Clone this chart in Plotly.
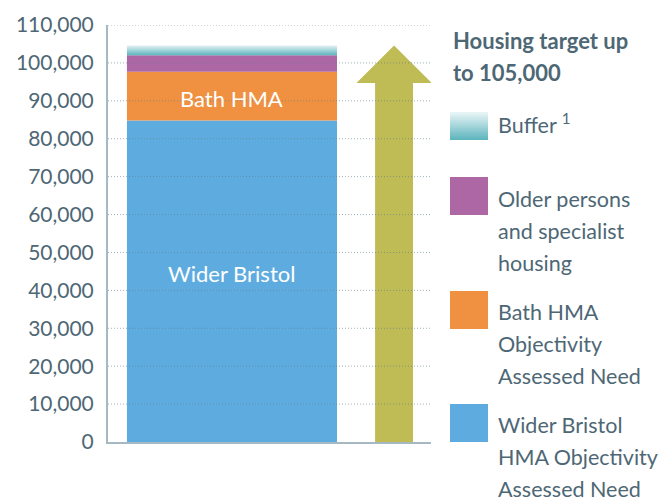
import plotly.graph_objects as go

# ---------------- data ----------------
segments = ["Wider Bristol", "Bath HMA", "Older persons and specialist housing", "Buffer"]
segment_values = [84800, 12900, 4300, 2600]
segment_colors = ["#5eacdf", "#ef9141", "#ae67a5", "#5bb4bd"]
bar_labels = ["Wider Bristol", "Bath HMA", "", ""]
title_lines = ["Housing target up", "to 105,000"]
legend_lines = [
    ["Buffer <sup>1</sup>"],
    ["Older persons", "and specialist", "housing"],
    ["Bath HMA", "Objectivity", "Assessed Need"],
    ["Wider Bristol", "HMA Objectivity", "Assessed Need"],
]
y_ticks = list(range(0, 110001, 10000))
y_ticktext = [f"{v:,}" for v in y_ticks]

# ---------------- style ----------------
W, H = 661, 500
ML, MR, MT, MB = 108, 230, 25, 58
TXT = "#4e6775"
AXIS = "#a6b8c1"
FONT = "Lato"
BAR_X, BAR_W = 0.0, 1.296
ARROW_X, SHAFT_HW, HEAD_HW = 1.0, 0.117, 0.232
HEAD_LEN = 9900
ARROW_COLOR = "#bfbb55"

plot_w = W - ML - MR
plot_h = H - MT - MB


def px_x(p):
    return (p - ML) / plot_w


def px_y(p):
    return (H - MB - p) / plot_h


fig = go.Figure()

# stacked solid segments
base = 0
bases = []
for i, (name, v) in enumerate(zip(segments, segment_values)):
    bases.append(base)
    if name != "Buffer":
        fig.add_trace(go.Bar(
            x=[BAR_X], y=[v], base=[base], width=BAR_W,
            marker=dict(color=segment_colors[i], line=dict(width=0)),
            name=name, showlegend=False, hoverinfo="skip",
        ))
    base += v
total = base

# buffer segment with vertical gradient
b0 = bases[3]
fig.add_trace(go.Scatter(
    x=[BAR_X - BAR_W / 2, BAR_X + BAR_W / 2, BAR_X + BAR_W / 2, BAR_X - BAR_W / 2, BAR_X - BAR_W / 2],
    y=[b0, b0, total, total, b0],
    mode="lines", line=dict(width=0), fill="toself",
    fillgradient=dict(type="vertical", colorscale=[[0, "#5bb4bd"], [1, "#e4f2f3"]]),
    showlegend=False, hoverinfo="skip",
))

# arrow up to the total
hb = total - HEAD_LEN
fig.add_trace(go.Scatter(
    x=[ARROW_X - SHAFT_HW, ARROW_X + SHAFT_HW, ARROW_X + SHAFT_HW, ARROW_X + HEAD_HW,
       ARROW_X, ARROW_X - HEAD_HW, ARROW_X - SHAFT_HW, ARROW_X - SHAFT_HW],
    y=[0, 0, hb, hb, total, hb, hb, 0],
    mode="lines", line=dict(width=0), fill="toself", fillcolor=ARROW_COLOR,
    showlegend=False, hoverinfo="skip",
))

# in-bar labels
label_shift = [8, -2, 0, 0]
for i, lab in enumerate(bar_labels):
    if lab:
        fig.add_annotation(x=BAR_X, y=bases[i] + segment_values[i] / 2, text=lab,
                           showarrow=False, font=dict(family=FONT, size=22, color="white"),
                           xref="x", yref="y", yshift=label_shift[i])

# dotted gridlines drawn above marks
for v in y_ticks[1:]:
    fig.add_shape(type="line", xref="paper", x0=0, x1=1, yref="y", y0=v, y1=v,
                  line=dict(color="rgba(95,125,140,0.6)", width=1, dash="1px,2px"), layer="above")

# ---------------- custom legend ----------------
for j, t in enumerate(title_lines):
    fig.add_annotation(xref="paper", yref="paper", x=px_x(451), y=px_y(41 + 32 * j),
                       xanchor="left", yanchor="middle",
                       text="<b>%s</b>" % t, showarrow=False,
                       font=dict(family=FONT, size=22, color=TXT))

sw_x0, sw_x1 = 450, 488
sw_tops = [112, 177, 291, 404]
sw_h = [28, 38, 38, 38]
text_first = [124, 199, 312, 425]
line_gap = 32
leg_colors = [None, segment_colors[2], segment_colors[1], segment_colors[0]]

# buffer swatch gradient in strips
n = 14
top_rgb = (236, 246, 247)
bot_rgb = (91, 180, 189)
for k in range(n):
    t = (k + 0.5) / n
    c = tuple(int(round(top_rgb[j] + (bot_rgb[j] - top_rgb[j]) * t)) for j in range(3))
    y0p = sw_tops[0] + k * sw_h[0] / n
    y1p = sw_tops[0] + (k + 1) * sw_h[0] / n
    fig.add_shape(type="rect", xref="paper", yref="paper",
                  x0=px_x(sw_x0), x1=px_x(sw_x1), y0=px_y(y1p), y1=px_y(y0p),
                  fillcolor="rgb(%d,%d,%d)" % c, line=dict(width=0), layer="above")

for i in range(1, 4):
    fig.add_shape(type="rect", xref="paper", yref="paper",
                  x0=px_x(sw_x0), x1=px_x(sw_x1), y0=px_y(sw_tops[i] + sw_h[i]), y1=px_y(sw_tops[i]),
                  fillcolor=leg_colors[i], line=dict(width=0), layer="above")

for i, lines in enumerate(legend_lines):
    for j, ln in enumerate(lines):
        fig.add_annotation(xref="paper", yref="paper", x=px_x(496), y=px_y(text_first[i] + j * line_gap),
                           xanchor="left", yanchor="middle", text=ln, showarrow=False,
                           font=dict(family=FONT, size=21.5, color=TXT))

fig.update_layout(
    width=W, height=H,
    margin=dict(l=ML, r=MR, t=MT, b=MB, autoexpand=False),
    paper_bgcolor="white", plot_bgcolor="white",
    barmode="overlay", showlegend=False,
    xaxis=dict(range=[-0.765, 1.228], showgrid=False, zeroline=False, showticklabels=False,
               showline=True, linecolor=AXIS, linewidth=2, ticks="", automargin=False),
    yaxis=dict(range=[0, 110000], tickvals=y_ticks, ticktext=y_ticktext, showgrid=False,
               zeroline=False, showline=True, linecolor=AXIS, linewidth=2, ticks="",
               ticklabelstandoff=8, automargin=False,
               tickfont=dict(family=FONT, size=21, color=TXT)),
)

fig.write_html("out.html", config={"displayModeBar": False},
               post_script="document.body.style.margin='0px';document.body.style.overflow='hidden';")
